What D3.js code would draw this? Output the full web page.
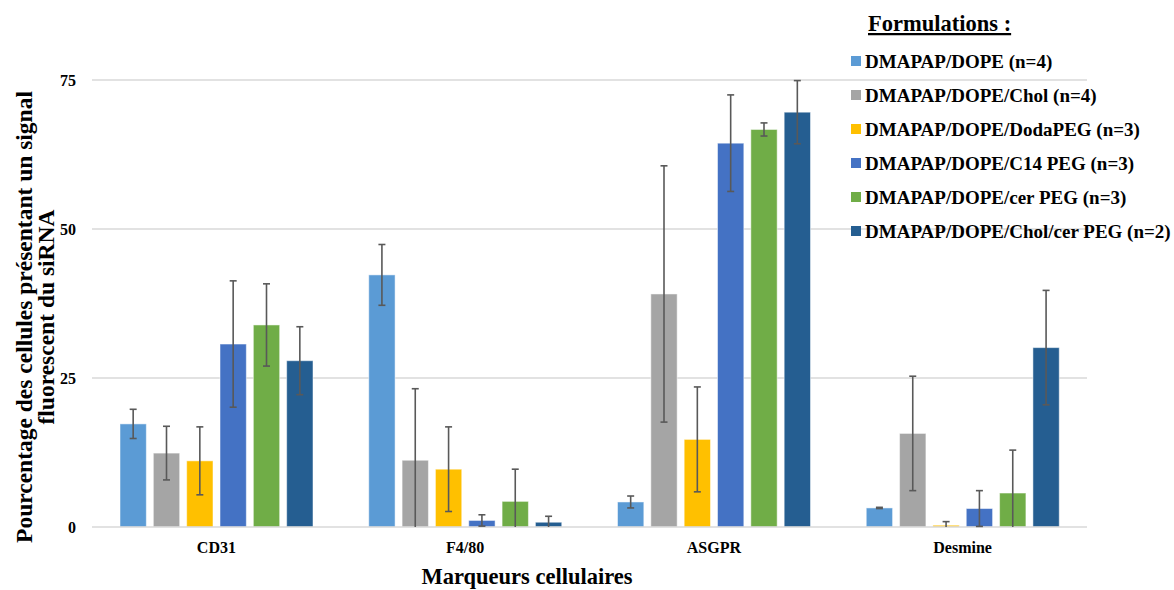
<!DOCTYPE html>
<html><head><meta charset="utf-8">
<script src="https://cdn.jsdelivr.net/npm/d3@7"></script>
<style>body{margin:0;background:#fff}svg{display:block}text{font-family:"Liberation Serif","Times New Roman",serif;font-weight:bold;fill:#000}</style>
</head><body><svg id="c" width="1174" height="590"></svg>
<script>
const categories = ["CD31", "F4/80", "ASGPR", "Desmine"];
const seriesNames = ["DMAPAP/DOPE (n=4)", "DMAPAP/DOPE/Chol (n=4)", "DMAPAP/DOPE/DodaPEG (n=3)", "DMAPAP/DOPE/C14 PEG (n=3)", "DMAPAP/DOPE/cer PEG (n=3)", "DMAPAP/DOPE/Chol/cer PEG (n=2)"];
const colors = ["#5B9BD5", "#A5A5A5", "#FFC000", "#4472C4", "#70AD47", "#255E91"];
// values[series][category]
const values = [
  [17.3, 42.3, 4.2, 3.2],
  [12.4, 11.2, 39.1, 15.7],
  [11.1, 9.7, 14.7, 0.3],
  [30.7, 1.1, 64.4, 3.1],
  [33.9, 4.3, 66.7, 5.7],
  [27.9, 0.8, 69.6, 30.1]
];
const errors = [
  [2.45, 5.1, 1.0, 0.1],
  [4.5, 12.0, 21.5, 9.6],
  [5.7, 7.1, 8.8, 0.6],
  [10.6, 0.95, 8.1, 3.0],
  [6.9, 5.4, 1.1, 7.2],
  [5.7, 1.0, 5.3, 9.6]
];
const yTicks = [0, 25, 50, 75];

const svg = d3.select("#c");
const L = 92, R = 1087, T = 80, B = 527;
const y = d3.scaleLinear().domain([0, 75]).range([B, T]);
const x0 = d3.scaleBand().domain(categories).range([L, R]).paddingInner(0).paddingOuter(0);
const x1 = d3.scaleBand().domain(d3.range(seriesNames.length)).range([28, 221]).paddingInner(0.21).paddingOuter(0);

// gridlines
svg.append("g").selectAll("line").data(yTicks.filter(d => d > 0)).join("line")
  .attr("x1", L).attr("x2", R).attr("y1", d => y(d)).attr("y2", d => y(d))
  .attr("stroke", "#d9d9d9").attr("stroke-width", 1.5);

// y axis labels
const yAxis = d3.axisLeft(y).tickValues(yTicks).tickSize(0).tickPadding(0).tickFormat(d3.format("d"));
const ya = svg.append("g").attr("transform", `translate(${L - 16},0)`).call(yAxis);
ya.select(".domain").remove();
ya.selectAll("text").attr("font-size", 16).attr("font-family", "Liberation Serif").attr("font-weight", "bold").attr("fill", "#000");

// bars
const g = svg.append("g");
seriesNames.forEach((s, i) => {
  const gs = g.append("g");
  gs.selectAll("rect").data(categories.map((c, j) => ({c, v: values[i][j], e: errors[i][j]}))).join("rect")
    .attr("x", d => x0(d.c) + x1(i)).attr("width", x1.bandwidth())
    .attr("y", d => y(d.v)).attr("height", d => B - y(d.v))
    .attr("fill", colors[i]).attr("stroke", "#fff").attr("stroke-opacity", 0.5).attr("stroke-width", 1);
});

// baseline axis
svg.append("line").attr("x1", L).attr("x2", R).attr("y1", B).attr("y2", B).attr("stroke", "#d9d9d9").attr("stroke-width", 1.5);

// error bars
const eg = svg.append("g").attr("stroke", "#595959").attr("stroke-width", 1.6);
seriesNames.forEach((s, i) => {
  categories.forEach((c, j) => {
    const cx = x0(c) + x1(i) + x1.bandwidth() / 2;
    const v = values[i][j], e = errors[i][j];
    const hi = y(v + e), lo = y(Math.max(0, v - e));
    eg.append("line").attr("x1", cx).attr("x2", cx).attr("y1", hi).attr("y2", lo);
    eg.append("line").attr("x1", cx - 3.5).attr("x2", cx + 3.5).attr("y1", hi).attr("y2", hi);
    if (v - e > 0) eg.append("line").attr("x1", cx - 3.5).attr("x2", cx + 3.5).attr("y1", lo).attr("y2", lo);
  });
});

// category labels
const xAxis = d3.axisBottom(x0).tickSize(0).tickPadding(0);
const xa = svg.append("g").attr("transform", `translate(0,${B + 15})`).call(xAxis);
xa.select(".domain").remove();
xa.selectAll("text").attr("font-size", 16).attr("font-family", "Liberation Serif").attr("font-weight", "bold").attr("fill", "#000").attr("dy", "0.71em");

// axis titles
svg.append("text").attr("x", 527).attr("y", 584).attr("text-anchor", "middle").attr("font-size", 22.5).text("Marqueurs cellulaires");
const yt = svg.append("text").attr("transform", "translate(0,317) rotate(-90)").attr("text-anchor", "middle").attr("font-size", 23.5);
yt.append("tspan").attr("x", 0).attr("y", 32).text("Pourcentage des cellules présentant un signal");
yt.append("tspan").attr("x", 0).attr("y", 54).text("fluorescent du siRNA");

// legend
svg.append("text").attr("x", 868).attr("y", 31).attr("font-size", 22.5).attr("text-decoration", "underline").text("Formulations :");
const lg = svg.append("g");
const rowY = d3.scaleLinear().domain([0, 5]).range([61, 231]);
seriesNames.forEach((s, i) => {
  lg.append("rect").attr("x", 851).attr("y", rowY(i) - 5).attr("width", 10).attr("height", 10).attr("fill", colors[i]);
  lg.append("text").attr("x", 865).attr("y", rowY(i)).attr("dy", "0.35em").attr("font-size", 19).text(s);
});
</script></body></html>
